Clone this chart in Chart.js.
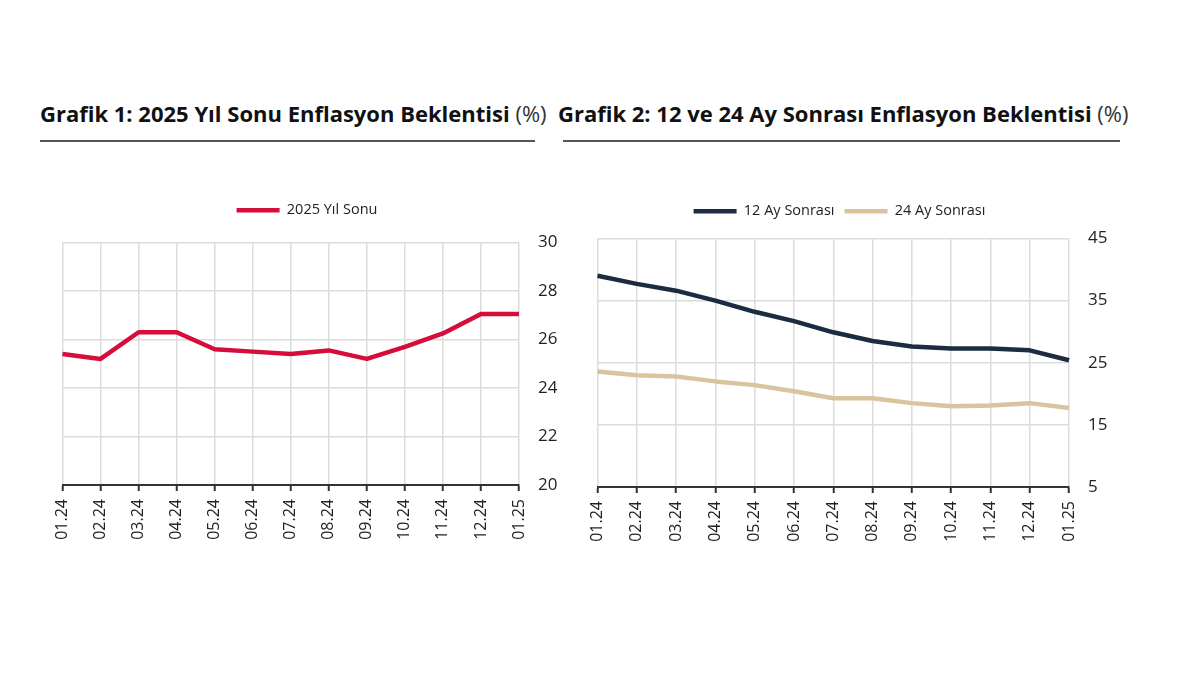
<!DOCTYPE html>
<html>
<head>
<meta charset="utf-8">
<script src="https://cdn.jsdelivr.net/npm/chart.js@4/dist/chart.umd.min.js"></script>
<style>
  html, body { margin: 0; padding: 0; background: #fff; }
  body { width: 1200px; height: 675px; position: relative; overflow: hidden; font-family: "Open Sans", sans-serif; }
  .title { position: absolute; top: 98px; font-size: 22px; line-height: 30px; color: #111; white-space: nowrap; }
  .title b { font-weight: 700; }
  .title span { font-weight: 400; color: #333; }
  .rule { position: absolute; top: 140px; height: 2px; background: #555; }
  .wrap { position: absolute; }
</style>
</head>
<body>
<div class="title" style="left:40px;"><b>Grafik 1: 2025 Yıl Sonu Enflasyon Beklentisi</b> <span>(%)</span></div>
<div class="rule" style="left:40px; width:495px;"></div>
<div class="title" style="left:558px;"><b>Grafik 2: 12 ve 24 Ay Sonrası Enflasyon Beklentisi</b> <span>(%)</span></div>
<div class="rule" style="left:563px; width:557px;"></div>

<div class="wrap" style="left:20px; top:180px; width:560px; height:390px;"><canvas id="c1"></canvas></div>
<div class="wrap" style="left:555px; top:180px; width:580px; height:390px;"><canvas id="c2"></canvas></div>

<script>
const months = ["01.24","02.24","03.24","04.24","05.24","06.24","07.24","08.24","09.24","10.24","11.24","12.24","01.25"];
const yilSonu2025 = [25.4, 25.2, 26.3, 26.3, 25.6, 25.5, 25.4, 25.55, 25.2, 25.7, 26.25, 27.05, 27.05];
const aySonrasi12 = [39.0, 37.7, 36.6, 35.0, 33.2, 31.7, 29.9, 28.5, 27.6, 27.3, 27.3, 27.0, 25.4];
const aySonrasi24 = [23.6, 23.0, 22.8, 22.0, 21.4, 20.4, 19.3, 19.3, 18.5, 18.0, 18.1, 18.5, 17.7];

Chart.defaults.font.family = "'Open Sans', sans-serif";
Chart.defaults.color = "#222";

function legendAdjust(extra, dx) {
  return {
    id: 'legendAdjust',
    beforeInit(chart) {
      const lg = chart.legend;
      if (!lg) return;
      const f = lg.fit;
      lg.fit = function () { f.call(this); this.height += extra; };
    },
    afterLayout(chart) {
      const lg = chart.legend;
      if (!lg) return;
      lg.left += dx;
      lg.right += dx;
    }
  };
}

function makeOptions(min, max, step, pad, yWidth) {
  return {
    responsive: true,
    maintainAspectRatio: false,
    animation: false,
    layout: { padding: pad },
    plugins: {
      legend: {
        position: 'top',
        labels: {
          usePointStyle: true,
          pointStyle: 'line',
          pointStyleWidth: 43,
          padding: 10,
          color: '#222',
          font: { size: 14.5 }
        }
      },
      tooltip: { enabled: false }
    },
    elements: { point: { radius: 0 }, line: { tension: 0 } },
    scales: {
      x: {
        offset: false,
        grid: { color: '#dcdcdc', lineWidth: 1.5, drawTicks: true, tickLength: 6, tickColor: '#333', tickWidth: 2 },
        border: { display: true, color: '#333', width: 2 },
        ticks: { minRotation: 90, maxRotation: 90, padding: 8, color: '#222', font: { size: 16 } },
        afterFit: s => { s.height = 70; }
      },
      y: {
        position: 'right',
        min: min, max: max,
        grid: { color: '#dcdcdc', lineWidth: 1.5, drawTicks: false },
        border: { display: false },
        ticks: { stepSize: step, padding: 19, color: '#222', font: { size: 17 } },
        afterFit: s => { s.width = yWidth; }
      }
    }
  };
}

new Chart(document.getElementById('c1'), {
  type: 'line',
  data: {
    labels: months,
    datasets: [{
      label: '2025 Yıl Sonu',
      data: yilSonu2025,
      borderColor: '#d50c3c',
      backgroundColor: '#d50c3c',
      borderWidth: 4.5,
      borderJoinStyle: 'round'
    }]
  },
  options: makeOptions(20, 30, 2, { left: 42.5, right: 16, top: 13, bottom: 15 }, 45),
  plugins: [legendAdjust(15, -6.25)]
});

new Chart(document.getElementById('c2'), {
  type: 'line',
  data: {
    labels: months,
    datasets: [{
      label: '12 Ay Sonrası',
      data: aySonrasi12,
      borderColor: '#1b2b40',
      backgroundColor: '#1b2b40',
      borderWidth: 4.5,
      borderJoinStyle: 'round'
    }, {
      label: '24 Ay Sonrası',
      data: aySonrasi24,
      borderColor: '#d9c4a0',
      backgroundColor: '#d9c4a0',
      borderWidth: 4.5,
      borderJoinStyle: 'round'
    }]
  },
  options: makeOptions(5, 45, 10, { left: 42.5, right: 21, top: 14, bottom: 13 }, 45),
  plugins: [legendAdjust(10, -16.25)]
});
</script>
</body>
</html>
